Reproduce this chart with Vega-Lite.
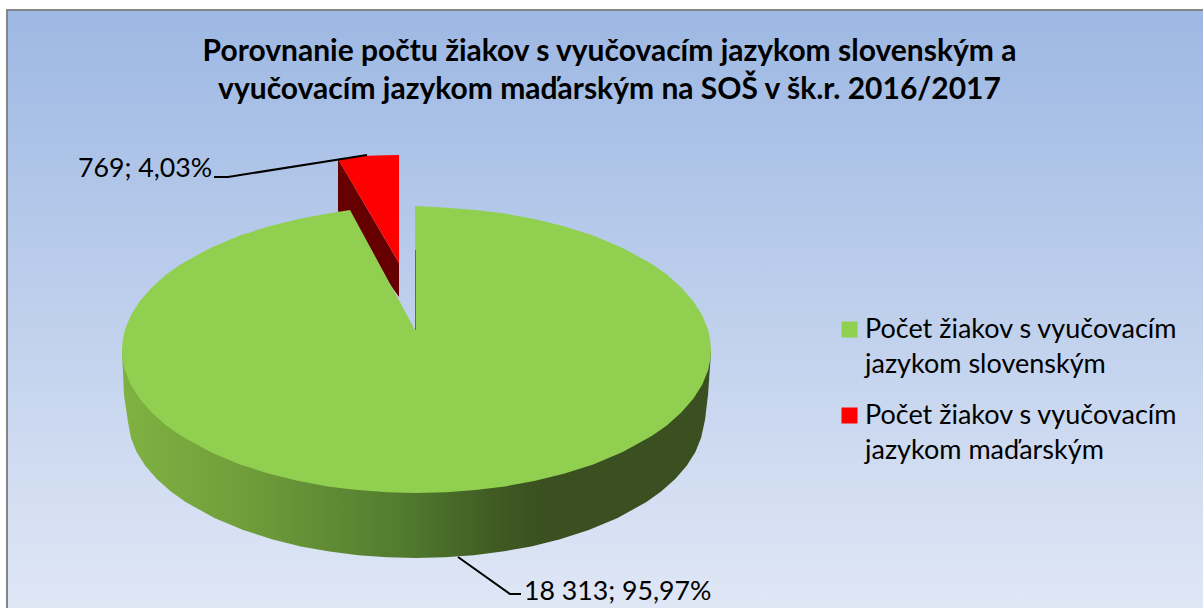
{
"$schema":"https://vega.github.io/schema/vega-lite/v6.json",
"width":1203,"height":608,"autosize":{"type":"none"},"padding":0,"background":"white",
"config":{"view":{"stroke":null},"font":"Lato","style":{"guide-label":{"lineHeight":35}}},
"title":{"text":["Porovnanie počtu žiakov s vyučovacím jazykom slovenským a","vyučovacím jazykom maďarským na SOŠ v šk.r. 2016/2017"],"font":"Lato","fontSize":30,"fontWeight":"bold","color":"#000000","lineHeight":38,"anchor":"middle","baseline":"top","dy":105,"dx":8,"offset":0},
"encoding":{
"x":{"field":"x","type":"quantitative","axis":null,"scale":{"domain":[0,1203],"nice":false,"zero":false}},
"y":{"field":"y","type":"quantitative","axis":null,"scale":{"domain":[0,608],"reverse":true,"nice":false,"zero":false}}
},
"layer":[
{"data":{"values":[{"x":7,"x2":1215,"y":10,"y2":620}]},
 "mark":{"type":"rect","clip":true,"stroke":"#868686","strokeWidth":2,"color":{"gradient":"linear","x1":0,"y1":0,"x2":0,"y2":1,"stops":[{"offset":0,"color":"#9DB8E3"},{"offset":1,"color":"#E1E8F6"}]}},
 "encoding":{"x2":{"field":"x2"},"y2":{"field":"y2"}}},
{"data":{"values":[{"x":122,"y":350,"y2":352},{"x":124,"y":350,"y2":395},{"x":128,"y":350,"y2":422},{"x":130.9,"y":350,"y2":437.7},{"x":136.6,"y":350,"y2":452},{"x":145.3,"y":350,"y2":465.7},{"x":156.8,"y":350,"y2":479},{"x":171.2,"y":350,"y2":491.8},{"x":185.6,"y":350,"y2":502},{"x":214.4,"y":350,"y2":518},{"x":243.2,"y":350,"y2":530},{"x":272,"y":350,"y2":539.2},{"x":300.8,"y":350,"y2":546.4},{"x":329.6,"y":350,"y2":551.6},{"x":358.4,"y":350,"y2":555.2},{"x":387.2,"y":350,"y2":557.3},{"x":416,"y":350,"y2":558},{"x":444.8,"y":350,"y2":557.3},{"x":473.6,"y":350,"y2":555.2},{"x":502.4,"y":350,"y2":551.6},{"x":531.2,"y":350,"y2":546.4},{"x":560,"y":350,"y2":539.2},{"x":588.8,"y":350,"y2":530},{"x":617.6,"y":350,"y2":518},{"x":646.4,"y":350,"y2":502},{"x":660.8,"y":350,"y2":491.8},{"x":675.2,"y":350,"y2":479},{"x":686.7,"y":350,"y2":465.7},{"x":695.4,"y":350,"y2":452},{"x":701.1,"y":350,"y2":437.7},{"x":705,"y":350,"y2":420},{"x":708,"y":350,"y2":395},{"x":711,"y":350,"y2":352}]},
 "mark":{"type":"area","color":{"gradient":"linear","x1":0,"y1":0,"x2":1,"y2":0,"stops":[{"offset":0,"color":"#80B242"},{"offset":0.22,"color":"#6F9C3A"},{"offset":0.47,"color":"#527C2F"},{"offset":0.64,"color":"#3F5A23"},{"offset":0.71,"color":"#3A5020"},{"offset":1,"color":"#3A5020"}]}},
 "encoding":{"y2":{"field":"y2"}}},
{"data":{"values":[{"x":338,"y":159,"y2":211},{"x":399,"y":263,"y2":297}]},
 "mark":{"type":"area","color":"#660000"},
 "encoding":{"y2":{"field":"y2"}}},
{"data":{"values":[
{"x":338,"y":159,"y2":159,"c":"Počet žiakov s vyučovacím jazykom maďarským"},
{"x":350,"y":157.5,"y2":179.5,"c":"Počet žiakov s vyučovacím jazykom maďarským"},
{"x":368,"y":155.8,"y2":210.1,"c":"Počet žiakov s vyučovacím jazykom maďarským"},
{"x":385,"y":155.2,"y2":239.1,"c":"Počet žiakov s vyučovacím jazykom maďarským"},
{"x":399,"y":155,"y2":263,"c":"Počet žiakov s vyučovacím jazykom maďarským"},
{"x":122,"y":350,"y2":350,"c":"Počet žiakov s vyučovacím jazykom slovenským"},
{"x":122.6,"y":341,"y2":359,"c":"Počet žiakov s vyučovacím jazykom slovenským"},
{"x":124.9,"y":329.8,"y2":370.2,"c":"Počet žiakov s vyučovacím jazykom slovenským"},
{"x":130.8,"y":315.2,"y2":384.8,"c":"Počet žiakov s vyučovacím jazykom slovenským"},
{"x":139.7,"y":301.2,"y2":398.8,"c":"Počet žiakov s vyučovacím jazykom slovenským"},
{"x":151.5,"y":287.7,"y2":412.3,"c":"Počet žiakov s vyučovacím jazykom slovenským"},
{"x":166.2,"y":274.6,"y2":425.4,"c":"Počet žiakov s vyučovacím jazykom slovenským"},
{"x":180.9,"y":264.2,"y2":435.8,"c":"Počet žiakov s vyučovacím jazykom slovenským"},
{"x":210.3,"y":247.9,"y2":452.1,"c":"Počet žiakov s vyučovacím jazykom slovenským"},
{"x":239.8,"y":235.6,"y2":464.4,"c":"Počet žiakov s vyučovacím jazykom slovenským"},
{"x":269.2,"y":226.2,"y2":473.8,"c":"Počet žiakov s vyučovacím jazykom slovenským"},
{"x":298.7,"y":218.9,"y2":481.1,"c":"Počet žiakov s vyučovacím jazykom slovenským"},
{"x":328.1,"y":213.6,"y2":486.4,"c":"Počet žiakov s vyučovacím jazykom slovenským"},
{"x":350,"y":210,"y2":489.3,"c":"Počet žiakov s vyučovacím jazykom slovenským"},
{"x":357.6,"y":224,"y2":490.1,"c":"Počet žiakov s vyučovacím jazykom slovenským"},
{"x":387,"y":278.3,"y2":492.3,"c":"Počet žiakov s vyučovacím jazykom slovenským"},
{"x":415,"y":330,"y2":493,"c":"Počet žiakov s vyučovacím jazykom slovenským"},
{"x":415.1,"y":206,"y2":493,"c":"Počet žiakov s vyučovacím jazykom slovenským"},
{"x":446,"y":207.7,"y2":492.3,"c":"Počet žiakov s vyučovacím jazykom slovenským"},
{"x":475.4,"y":209.9,"y2":490.1,"c":"Počet žiakov s vyučovacím jazykom slovenským"},
{"x":504.9,"y":213.6,"y2":486.4,"c":"Počet žiakov s vyučovacím jazykom slovenským"},
{"x":534.3,"y":218.9,"y2":481.1,"c":"Počet žiakov s vyučovacím jazykom slovenským"},
{"x":563.8,"y":226.2,"y2":473.8,"c":"Počet žiakov s vyučovacím jazykom slovenským"},
{"x":593.2,"y":235.6,"y2":464.4,"c":"Počet žiakov s vyučovacím jazykom slovenským"},
{"x":622.7,"y":247.9,"y2":452.1,"c":"Počet žiakov s vyučovacím jazykom slovenským"},
{"x":652.1,"y":264.2,"y2":435.8,"c":"Počet žiakov s vyučovacím jazykom slovenským"},
{"x":666.8,"y":274.6,"y2":425.4,"c":"Počet žiakov s vyučovacím jazykom slovenským"},
{"x":681.5,"y":287.7,"y2":412.3,"c":"Počet žiakov s vyučovacím jazykom slovenským"},
{"x":693.3,"y":301.2,"y2":398.8,"c":"Počet žiakov s vyučovacím jazykom slovenským"},
{"x":702.2,"y":315.2,"y2":384.8,"c":"Počet žiakov s vyučovacím jazykom slovenským"},
{"x":708.1,"y":329.8,"y2":370.2,"c":"Počet žiakov s vyučovacím jazykom slovenským"},
{"x":710.4,"y":341,"y2":359,"c":"Počet žiakov s vyučovacím jazykom slovenským"},
{"x":711,"y":350,"y2":350,"c":"Počet žiakov s vyučovacím jazykom slovenským"}
]},
 "mark":{"type":"area"},
 "encoding":{"y2":{"field":"y2"},
  "color":{"field":"c","type":"nominal","scale":{"domain":["Počet žiakov s vyučovacím jazykom slovenským","Počet žiakov s vyučovacím jazykom maďarským"],"range":["#90CF50","#FF0000"]},
   "legend":{"title":null,"orient":"none","legendX":836,"legendY":316,"padding":0,"symbolType":"square","symbolSize":256,"symbolStrokeWidth":0,"labelFont":"Lato","labelFontSize":27,"labelColor":"#000000","labelLimit":400,"labelOffset":2,"rowPadding":23,"labelExpr":"[slice(datum.label,0,25), slice(datum.label,26)]"}}}},
{"data":{"values":[{"x":214,"y":177,"k":"a"},{"x":228,"y":177,"k":"a"},{"x":367,"y":155,"k":"a"},{"x":458,"y":557,"k":"b"},{"x":510,"y":594,"k":"b"},{"x":521,"y":594,"k":"b"}]},
 "mark":{"type":"line","color":"#000000","strokeWidth":2},
 "encoding":{"detail":{"field":"k"}}},
{"data":{"values":[{"x":415.5,"y":250},{"x":415.5,"y":330}]},
 "mark":{"type":"line","color":"#666666","strokeWidth":1},"encoding":{}},
{"data":{"values":[{"x":78,"y":169,"t":"769; 4,03%"},{"x":524,"y":592,"t":"18 313; 95,97%"}]},
 "mark":{"type":"text","align":"left","baseline":"middle","fontSize":26.7,"font":"Lato","color":"#000000"},
 "encoding":{"text":{"field":"t"}}}
]
}
